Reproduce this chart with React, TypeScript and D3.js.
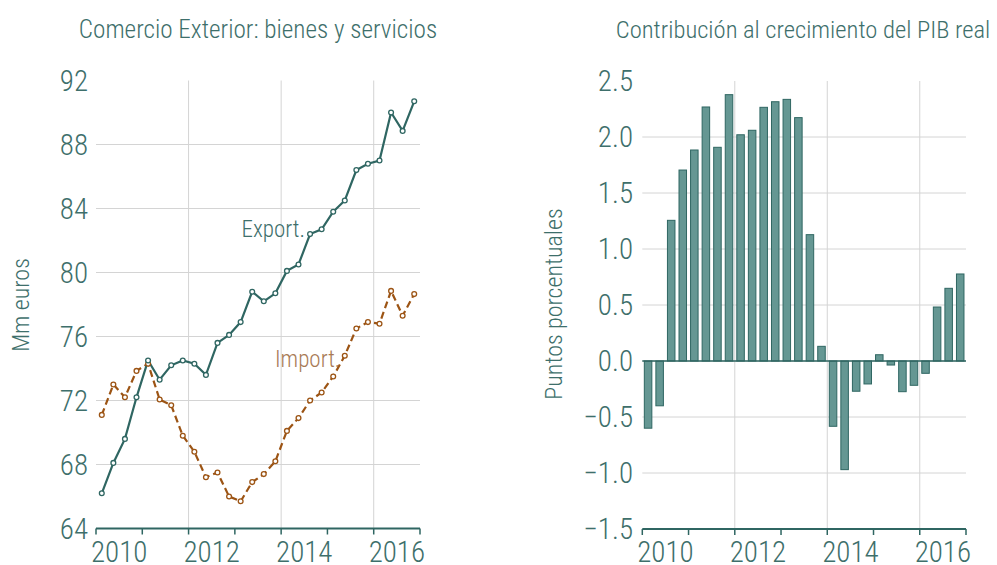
import React from "react";
import * as d3 from "d3";

const quarters = [
  "2010T1","2010T2","2010T3","2010T4",
  "2011T1","2011T2","2011T3","2011T4",
  "2012T1","2012T2","2012T3","2012T4",
  "2013T1","2013T2","2013T3","2013T4",
  "2014T1","2014T2","2014T3","2014T4",
  "2015T1","2015T2","2015T3","2015T4",
  "2016T1","2016T2","2016T3","2016T4",
];
const exportValues = [
  66.2, 68.1, 69.6, 72.2,
  74.5, 73.3, 74.2, 74.5,
  74.3, 73.6, 75.6, 76.1,
  76.9, 78.8, 78.2, 78.7,
  80.1, 80.5, 82.4, 82.7,
  83.8, 84.5, 86.4, 86.8,
  87.0, 90.0, 88.85, 90.7,
];
const importValues = [
  71.1, 73.0, 72.2, 73.85,
  74.3, 72.06, 71.7, 69.8,
  68.8, 67.2, 67.5, 66.0,
  65.7, 66.9, 67.4, 68.2,
  70.1, 70.9, 72.0, 72.5,
  73.5, 74.8, 76.5, 76.9,
  76.8, 78.85, 77.3, 78.65,
];
const contribValues = [
  -0.60, -0.40, 1.256, 1.705,
  1.884, 2.268, 1.908, 2.378,
  2.02, 2.06, 2.265, 2.315,
  2.336, 2.173, 1.128, 0.131,
  -0.583, -0.97, -0.27, -0.205,
  0.056, -0.036, -0.274, -0.217,
  -0.11, 0.482, 0.649, 0.777,
];
const leftYTicks = [64, 68, 72, 76, 80, 84, 88, 92];
const rightYTicks = [-1.5, -1.0, -0.5, 0.0, 0.5, 1.0, 1.5, 2.0, 2.5];
const yearTicks = [2010, 2011, 2012, 2013, 2014, 2015, 2016, 2017];
const yearGrid = [2012, 2014, 2016];
const yearLabels = [2010, 2012, 2014, 2016];

const FONT = "'Roboto Condensed', 'Liberation Sans Narrow', 'Arial Narrow', 'DejaVu Sans Condensed', sans-serif";
const TEXT = "#3e6f6b";
const TEAL = "#2f6662";
const BROWN = "#9c5414";
const GRID = "#d4d4d4";

function qPos(i: number) {
  return 2010 + (i + 0.5) / 4;
}

export default function App() {
  // Left chart
  const lx = d3.scaleLinear().domain([2010, 2017]).range([96, 420]);
  const ly = d3.scaleLinear().domain([64, 92]).range([528.5, 80.5]);
  const lineGen = d3
    .line<number>()
    .x((_, i) => lx(qPos(i)))
    .y((d) => ly(d));

  // Right chart
  const rx = d3.scaleLinear().domain([2010, 2017]).range([642.3, 966]);
  const rb = d3
    .scaleBand<string>()
    .domain(quarters)
    .range([642.3, 966])
    .paddingInner(0.35)
    .paddingOuter(0.175);
  const ry = d3.scaleLinear().domain([-1.5, 2.5]).range([529, 81]);

  return (
    <svg width={997} height={565} style={{ display: "block", position: "absolute", left: 0, top: 0 }} fontFamily={FONT}>
      <rect x={0} y={0} width={997} height={565} fill="#ffffff" />

      {/* ===== Left chart ===== */}
      <text x={258} y={38} textAnchor="middle" fontSize={25.2} fill={TEXT} fontWeight={300}>
        Comercio Exterior: bienes y servicios
      </text>
      {leftYTicks.filter((t) => t !== 92 && t !== 64).map((t) => (
        <line key={"lg" + t} x1={96} x2={420} y1={ly(t)} y2={ly(t)} stroke={GRID} strokeWidth={1} />
      ))}
      {yearGrid.map((t) => (
        <line key={"lv" + t} x1={lx(t)} x2={lx(t)} y1={ly(92)} y2={ly(64)} stroke={GRID} strokeWidth={1} />
      ))}
      {leftYTicks.map((t) => (
        <text key={"ly" + t} x={88} y={ly(t)} dy="0.36em" textAnchor="end" fontSize={29} fill={TEXT} fontWeight={300}>
          {t}
        </text>
      ))}
      <text
        transform={`translate(20,305) rotate(-90)`}
        textAnchor="middle"
        dy="0.36em"
        fontSize={24}
        fill={TEXT}
        fontWeight={300}
      >
        Mm euros
      </text>
      <path d={lineGen(importValues) || ""} fill="none" stroke={BROWN} strokeWidth={2.2} strokeDasharray="7,4" />
      <path d={lineGen(exportValues) || ""} fill="none" stroke={TEAL} strokeWidth={2.2} />
      {importValues.map((v, i) => (
        <circle key={"ic" + i} cx={lx(qPos(i))} cy={ly(v)} r={2.4} fill="#fff" stroke={BROWN} strokeWidth={1.3} />
      ))}
      {exportValues.map((v, i) => (
        <circle key={"ec" + i} cx={lx(qPos(i))} cy={ly(v)} r={2.4} fill="#fff" stroke={TEAL} strokeWidth={1.3} />
      ))}
      <text x={241.5} y={236.5} fontSize={23} fill={TEXT} fontWeight={300}>Export.</text>
      <text x={275} y={366.5} fontSize={23} fill="#a87a55" fontWeight={300}>Import.</text>
      <line x1={96} x2={420} y1={ly(64)} y2={ly(64)} stroke={TEAL} strokeWidth={2} />
      {yearTicks.map((t) => (
        <line key={"lt" + t} x1={lx(t)} x2={lx(t)} y1={ly(64)} y2={ly(64) + 6} stroke={TEAL} strokeWidth={1.5} />
      ))}
      {yearLabels.map((t) => (
        <text key={"lxl" + t} x={lx(t + 0.5)} y={562} textAnchor="middle" fontSize={29} fill={TEXT} fontWeight={300}>
          {t}
        </text>
      ))}

      {/* ===== Right chart ===== */}
      <text x={803} y={38} textAnchor="middle" fontSize={24.6} fill={TEXT} fontWeight={300}>
        Contribución al crecimiento del PIB real
      </text>
      {rightYTicks.filter((t) => t !== 2.5 && t !== -1.5).map((t) => (
        <line key={"rg" + t} x1={642.3} x2={966} y1={ry(t)} y2={ry(t)} stroke={GRID} strokeWidth={1} />
      ))}
      {yearGrid.map((t) => (
        <line key={"rv" + t} x1={rx(t)} x2={rx(t)} y1={ry(2.5)} y2={ry(-1.5)} stroke={GRID} strokeWidth={1} />
      ))}
      {rightYTicks.map((t) => (
        <text key={"ry" + t} x={633} y={ry(t)} dy="0.36em" textAnchor="end" fontSize={29} fill={TEXT} fontWeight={300}>
          {d3.format(".1f")(t)}
        </text>
      ))}
      <text
        transform={`translate(553,304) rotate(-90)`}
        textAnchor="middle"
        dy="0.36em"
        fontSize={24}
        fill={TEXT}
        fontWeight={300}
      >
        Puntos porcentuales
      </text>
      {contribValues.map((v, i) => (
        <rect
          key={"b" + i}
          x={rb(quarters[i])}
          y={ry(Math.max(0, v))}
          width={rb.bandwidth()}
          height={Math.abs(ry(v) - ry(0))}
          fill="#659793"
          stroke={TEAL}
          strokeWidth={1}
        />
      ))}
      <line x1={642.3} x2={966} y1={ry(0)} y2={ry(0)} stroke={TEAL} strokeWidth={1.5} />
      <line x1={642.3} x2={966} y1={ry(-1.5)} y2={ry(-1.5)} stroke={TEAL} strokeWidth={2} />
      {yearTicks.map((t) => (
        <line key={"rt" + t} x1={rx(t)} x2={rx(t)} y1={ry(-1.5)} y2={ry(-1.5) + 6} stroke={TEAL} strokeWidth={1.5} />
      ))}
      {yearLabels.map((t) => (
        <text key={"rxl" + t} x={rx(t + 0.5)} y={562} textAnchor="middle" fontSize={29} fill={TEXT} fontWeight={300}>
          {t}
        </text>
      ))}
    </svg>
  );
}
